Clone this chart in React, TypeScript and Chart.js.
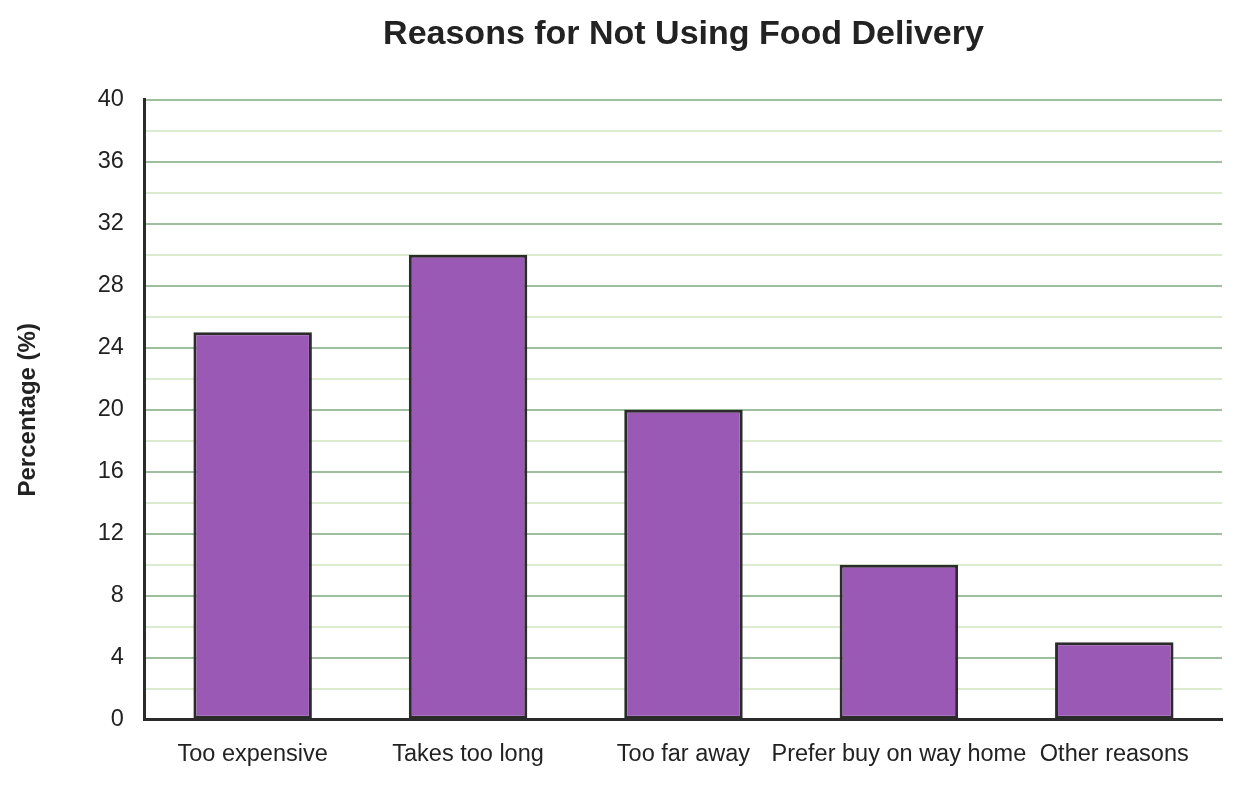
import React, { useEffect, useRef } from "react";
import { Chart, registerables } from "chart.js";

Chart.register(...registerables);

const categories = [
  "Too expensive",
  "Takes too long",
  "Too far away",
  "Prefer buy on way home",
  "Other reasons",
];
const percentages = [25, 30, 20, 10, 5];

const FONT = "'Liberation Sans', Arial, Helvetica, sans-serif";

const App: React.FC = () => {
  const chartRef = useRef<HTMLCanvasElement | null>(null);

  useEffect(() => {
    document.body.style.margin = "0";
    if (!chartRef.current) return;

    const chart = new Chart(chartRef.current, {
      type: "bar",
      data: {
        labels: categories,
        datasets: [
          {
            label: "Percentage",
            data: percentages,
            backgroundColor: "#9b59b6",
            borderColor: "#2b2b2b",
            borderWidth: 3,
            borderSkipped: false,
            barPercentage: 0.55,
            categoryPercentage: 1,
          },
        ],
      },
      options: {
        animation: false,
        responsive: true,
        maintainAspectRatio: false,
        layout: { padding: { left: 14, right: 19, top: 4, bottom: -4 } },
        plugins: {
          legend: { display: false },
          tooltip: { enabled: false },
          title: {
            display: true,
            fullSize: false,
            text: "Reasons for Not Using Food Delivery",
            color: "#222",
            font: { family: FONT, size: 34, weight: "bold" },
            padding: { top: 10, bottom: 45 },
          },
        },
        scales: {
          x: {
            grid: { display: false, drawTicks: false },
            border: { display: true, color: "#2b2b2b", width: 3 },
            ticks: {
              color: "#222",
              font: { family: FONT, size: 23.5 },
              padding: 21,
              maxRotation: 0,
              autoSkip: false,
            },
          },
          y: {
            min: 0,
            max: 40,
            grid: {
              drawTicks: false,
              lineWidth: 2,
              color: (ctx) =>
                ctx.tick && ctx.tick.value % 4 === 0 ? "#9dbf9d" : "#dcebd0",
            },
            border: { display: true, color: "#2b2b2b", width: 3 },
            ticks: {
              stepSize: 2,
              autoSkip: false,
              color: "#222",
              font: { family: FONT, size: 23.5 },
              padding: 21,
              callback: (value) => (Number(value) % 4 === 0 ? String(value) : ""),
            },
            title: {
              display: true,
              text: "Percentage (%)",
              color: "#222",
              font: { family: FONT, size: 24, weight: "bold" },
              padding: { top: 0, bottom: 34 },
            },
          },
        },
      },
    });

    return () => {
      chart.destroy();
    };
  }, []);

  return (
    <div style={{ width: "1241px", height: "786px", position: "relative" }}>
      <canvas ref={chartRef} />
    </div>
  );
};

export default App;
